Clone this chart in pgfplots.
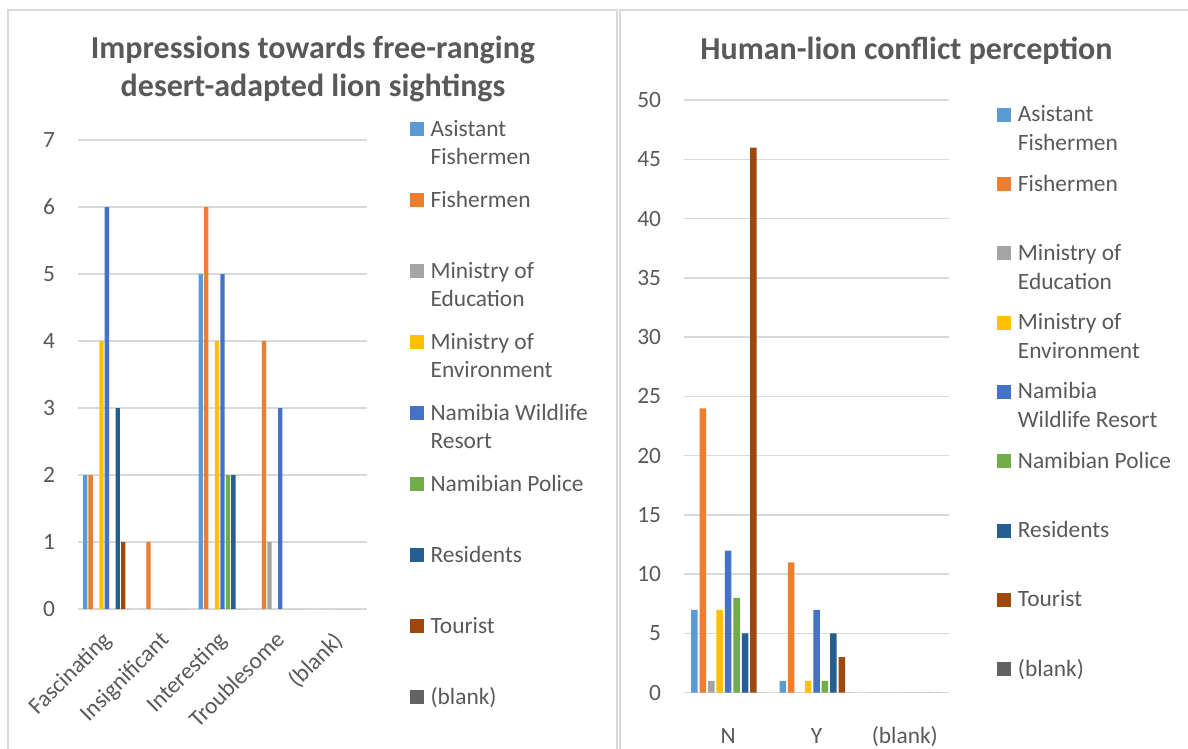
\documentclass[border=0pt]{standalone}
\usepackage{fontspec}
\setmainfont{Carlito}
\usepackage{pgfplots}
\pgfplotsset{compat=1.18}
\usepackage{pgfplotstable}

\definecolor{cAF}{HTML}{5B9BD5}
\definecolor{cFI}{HTML}{ED7D31}
\definecolor{cMED}{HTML}{A5A5A5}
\definecolor{cMEN}{HTML}{FFC000}
\definecolor{cNWR}{HTML}{4472C4}
\definecolor{cPOL}{HTML}{70AD47}
\definecolor{cRES}{HTML}{255E91}
\definecolor{cTOU}{HTML}{9E480E}
\definecolor{cBLA}{HTML}{636363}
\definecolor{txt}{HTML}{595959}
\definecolor{gridc}{HTML}{D9D9D9}

\newcommand\smallfont{\fontsize{11.7}{14.4}\selectfont}
\newcommand\titlefont{\fontsize{16}{19.2}\selectfont\bfseries}
\newcommand\leg[1]{\parbox[t]{95pt}{\raggedright\strut #1}}

% impressions: 0 Fascinating, 1 Insignificant, 2 Interesting, 3 Troublesome, 4 (blank)
\pgfplotstableread{
x af fi med men nwr pol res tou bla
0 2 2 0 4 6 0 3 1 0
1 0 1 0 0 0 0 0 0 0
2 5 6 0 4 5 2 2 0 0
3 0 4 1 0 3 0 0 0 0
4 0 0 0 0 0 0 0 0 0
}\impr

% conflict: 0 N, 1 Y, 2 (blank)
\pgfplotstableread{
x af fi med men nwr pol res tou bla
0 7 24 1 7 12 8 5 46 0
1 1 11 0 1 7 1 5 3 0
2 0 0 0 0 0 0 0 0 0
}\confl

\pgfplotsset{
  sq/.style={legend image code/.code={\fill[##1,draw=none] (0pt,0pt) rectangle (7pt,7pt);}},
  lion/.style={
    scale only axis,
    ybar,
    ymin=0,
    axis line style={draw=none},
    tick style={draw=none},
    ymajorgrids,
    major grid style={draw=gridc, line width=0.75pt},
    tick label style={font=\smallfont, text=txt},
    /pgf/number format/assume math mode=true,
    yticklabel style={inner sep=0pt, anchor=east, xshift=-11.3pt},
    legend cell align=left,
    legend style={draw=none, fill=none, inner sep=0pt, outer sep=0pt,
      row sep=0pt, column sep=3.3pt, font=\smallfont, text=txt,
      nodes={inner sep=0pt, outer sep=0pt, anchor=base west, text height=10.08pt}},
  },
}

\begin{document}
\begin{tikzpicture}
\path[use as bounding box] (0pt,0pt) rectangle (594pt,-374.5pt);
% panel frames
\draw[gridc, line width=0.75pt] (3.95pt,-390pt) -- (3.95pt,-4.9pt) -- (308.5pt,-4.9pt) -- (308.5pt,-390pt);
\draw[gridc, line width=0.75pt] (310pt,-390pt) -- (310pt,-4.9pt) -- (610pt,-4.9pt);

% titles
\node[anchor=base, text=txt, font=\titlefont] at (156.5pt,-29.15pt) {Impressions towards free-ranging};
\node[anchor=base, text=txt, font=\titlefont] at (156.5pt,-48.35pt) {desert-adapted lion sightings};
\node[anchor=base, text=txt, font=\titlefont] at (453.25pt,-29.6pt) {Human-lion conflict perception};

\begin{axis}[
  lion,
  at={(39pt,-304.5pt)}, anchor=south west,
  width=144.5pt, height=234.5pt,
  xmin=-0.5, xmax=4.5,
  ymax=7, ytick={0,1,...,7},
  bar width=2.15pt, ybar=0.565pt,
  xtick={0,1,2,3,4},
  xticklabels={Fascinating,Insignificant,Interesting,Troublesome,(blank)},
  xticklabel style={xshift=-3.1pt, yshift=-5.9pt, rotate=45, anchor=north east, inner sep=0pt},
  legend style={at={(1.14879,1.05151)}, anchor=north west, nodes={text depth=25.42pt}},
]
\addplot[fill=cAF, draw=none, sq] table[x=x,y=af]{\impr};
\addlegendentry{\leg{Asistant\\Fishermen}}
\addplot[fill=cFI, draw=none, sq] table[x=x,y=fi]{\impr};
\addlegendentry{\leg{Fishermen}}
\addplot[fill=cMED, draw=none, sq] table[x=x,y=med]{\impr};
\addlegendentry{\leg{Ministry of\\Education}}
\addplot[fill=cMEN, draw=none, sq] table[x=x,y=men]{\impr};
\addlegendentry{\leg{Ministry of\\Environment}}
\addplot[fill=cNWR, draw=none, sq] table[x=x,y=nwr]{\impr};
\addlegendentry{\leg{Namibia Wildlife\\Resort}}
\addplot[fill=cPOL, draw=none, sq] table[x=x,y=pol]{\impr};
\addlegendentry{\leg{Namibian Police}}
\addplot[fill=cRES, draw=none, sq] table[x=x,y=res]{\impr};
\addlegendentry{\leg{Residents}}
\addplot[fill=cTOU, draw=none, sq] table[x=x,y=tou]{\impr};
\addlegendentry{\leg{Tourist}}
\addplot[fill=cBLA, draw=none, sq] table[x=x,y=bla]{\impr};
\addlegendentry{\leg{(blank)}}
\end{axis}

\begin{axis}[
  lion,
  at={(342pt,-346.35pt)}, anchor=south west,
  width=132.5pt, height=296.25pt,
  xmin=-0.5, xmax=2.5,
  ymax=50, ytick={0,5,...,50},
  bar width=3.25pt, ybar=0.965pt,
  xtick={0,1,2},
  xticklabels={N,Y,(blank)},
  xticklabel style={anchor=base, inner sep=0pt, yshift=-21pt},
  legend style={at={(1.18226,0.99774)}, anchor=north west, nodes={text depth=24.57pt}},
]
\addplot[fill=cAF, draw=none, sq] table[x=x,y=af]{\confl};
\addlegendentry{\leg{Asistant\\Fishermen}}
\addplot[fill=cFI, draw=none, sq] table[x=x,y=fi]{\confl};
\addlegendentry{\leg{Fishermen}}
\addplot[fill=cMED, draw=none, sq] table[x=x,y=med]{\confl};
\addlegendentry{\leg{Ministry of\\Education}}
\addplot[fill=cMEN, draw=none, sq] table[x=x,y=men]{\confl};
\addlegendentry{\leg{Ministry of\\Environment}}
\addplot[fill=cNWR, draw=none, sq] table[x=x,y=nwr]{\confl};
\addlegendentry{\leg{Namibia\\Wildlife Resort}}
\addplot[fill=cPOL, draw=none, sq] table[x=x,y=pol]{\confl};
\addlegendentry{\leg{Namibian Police}}
\addplot[fill=cRES, draw=none, sq] table[x=x,y=res]{\confl};
\addlegendentry{\leg{Residents}}
\addplot[fill=cTOU, draw=none, sq] table[x=x,y=tou]{\confl};
\addlegendentry{\leg{Tourist}}
\addplot[fill=cBLA, draw=none, sq] table[x=x,y=bla]{\confl};
\addlegendentry{\leg{(blank)}}
\end{axis}
\end{tikzpicture}
\end{document}
